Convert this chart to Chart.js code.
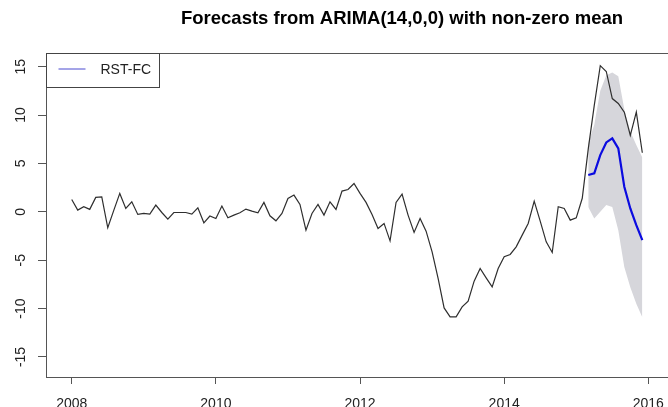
<!DOCTYPE html>
<html>
<head>
<meta charset="utf-8">
<script src="https://cdn.jsdelivr.net/npm/chart.js@4.4.1/dist/chart.umd.min.js"></script>
<style>
  html, body { margin: 0; padding: 0; background: #fff; }
  #wrap { width: 668px; height: 407px; overflow: hidden; }
</style>
</head>
<body>
<div id="wrap"><canvas id="fc" width="850" height="407"></canvas></div>
<script>
// monthly series, Jan 2008 .. Dec 2015
const startYear = 2008;
const freq = 12;
const rst = [
  1.28, 0.18, 0.52, 0.25, 1.49, 1.55, -1.65, 0.15, 1.9, 0.35, 1.03, -0.27,
  -0.17, -0.24, 0.69, -0.07, -0.75, -0.07, -0.07, -0.07, -0.24, 0.41, -1.14, -0.44,
  -0.69, 0.59, -0.62, -0.34, -0.1, 0.28, 0.07, -0.1, 0.97, -0.41, -0.93, -0.17,
  1.38, 1.73, 0.76, -1.89, -0.17, 0.76, -0.34, 1.03, 0.25, 2.14, 2.31, 2.93,
  1.9, 0.97, -0.27, -1.72, -1.2, -3.0, 0.97, 1.83, -0.34, -2.13, -0.69, -2.0,
  -4.14, -6.89, -9.93, -10.86, -10.86, -9.82, -9.23, -7.17, -5.86, -6.82, -7.76, -5.86,
  -4.65, -4.41, -3.62, -2.41, -1.2, 1.1, -0.96, -3.1, -4.2, 0.52, 0.35, -0.86,
  -0.62, 1.4, 6.5, 11.0, 15.1, 14.5, 11.7, 11.2, 10.3, 7.9, 10.3, 6.1
];

// forecast Mar 2015 .. Dec 2015
const fcStart = 2015 + 2 / 12;
const fcMean  = [3.8, 3.97, 5.86, 7.17, 7.59, 6.55, 2.59, 0.35, -1.38, -2.93];
const fcUpper = [7.1, 9.0, 12.5, 14.1, 14.4, 14.0, 10.6, 8.3, 6.9, 5.6];
const fcLower = [0.5, -0.7, 0.0, 0.7, 0.5, -1.9, -5.7, -7.8, -9.5, -10.9];

const xTicks = [2008, 2010, 2012, 2014, 2016];
const yTicks = [-15, -10, -5, 0, 5, 10, 15];

const toPoints = (start, values) => values.map((v, i) => ({ x: start + i / freq, y: v }));

const axisFont = { family: "'Liberation Sans', Arial, sans-serif", size: 14 };

// R style box round the plot region
const boxPlugin = {
  id: 'box',
  afterDraw(chart) {
    const { ctx, chartArea: a } = chart;
    ctx.save();
    ctx.strokeStyle = '#555';
    ctx.lineWidth = 1;
    ctx.strokeRect(Math.round(a.left) + 0.5, Math.round(a.top) + 0.5,
      Math.round(a.right - a.left), Math.round(a.bottom - a.top));
    ctx.restore();
  }
};

// legend box in the top left corner
const legendPlugin = {
  id: 'rlegend',
  afterDraw(chart) {
    const { ctx, chartArea: a } = chart;
    const ds = chart.data.datasets[0];
    const x = Math.round(a.left) + 0.5, y = Math.round(a.top) + 0.5;
    ctx.save();
    ctx.fillStyle = '#fff';
    ctx.fillRect(x, y, 113, 34);
    ctx.strokeStyle = '#444';
    ctx.lineWidth = 1;
    ctx.strokeRect(x, y, 113, 34);
    ctx.strokeStyle = '#4a4ad0';
    ctx.beginPath();
    ctx.moveTo(x + 12, y + 15.5);
    ctx.lineTo(x + 39, y + 15.5);
    ctx.stroke();
    ctx.fillStyle = '#222';
    ctx.font = "14px 'Liberation Sans', Arial, sans-serif";
    ctx.textBaseline = 'middle';
    ctx.fillText(ds.label, x + 54, y + 16.5);
    ctx.restore();
  }
};

new Chart(document.getElementById('fc'), {
  type: 'line',
  data: {
    datasets: [
      { label: 'RST-FC', data: toPoints(fcStart, fcMean), borderColor: '#0b0be0', borderWidth: 2.2,
        pointRadius: 0, fill: false, order: 0 },
      { label: 'RST', data: toPoints(startYear, rst), borderColor: '#2e2e2e', borderWidth: 1.2,
        pointRadius: 0, fill: false, order: 1 },
      { label: 'upper', data: toPoints(fcStart, fcUpper), borderWidth: 0, borderColor: 'rgba(0,0,0,0)',
        backgroundColor: '#d6d6db', pointRadius: 0, fill: '+1', order: 2 },
      { label: 'lower', data: toPoints(fcStart, fcLower), borderWidth: 0, borderColor: 'rgba(0,0,0,0)',
        pointRadius: 0, fill: false, order: 3 }
    ]
  },
  options: {
    responsive: false,
    animation: false,
    devicePixelRatio: 1,
    layout: { padding: { left: 0, right: 46, top: 0, bottom: 0 } },
    elements: { line: { tension: 0 } },
    plugins: {
      legend: { display: false },
      tooltip: { enabled: false },
      title: {
        display: true,
        text: 'Forecasts from ARIMA(14,0,0) with non-zero mean',
        color: '#000',
        font: { family: "'Liberation Sans', Arial, sans-serif", size: 18.5, weight: 'bold' },
        padding: { top: 8, bottom: 23 }
      }
    },
    scales: {
      x: {
        type: 'linear',
        min: 2007.643,
        max: 2018.16,
        afterBuildTicks: s => { s.ticks = xTicks.map(v => ({ value: v })); },
        afterFit: s => { s.height = 30; },
        grid: { drawOnChartArea: false, drawTicks: true, tickLength: 7, tickColor: '#555' },
        border: { display: false },
        ticks: { font: axisFont, color: '#222', padding: 12, maxRotation: 0, autoSkip: false,
          callback: v => String(v) }
      },
      y: {
        min: -17.07,
        max: 16.39,
        afterBuildTicks: s => { s.ticks = yTicks.map(v => ({ value: v })); },
        afterFit: s => { s.width = 46; },
        grid: { drawOnChartArea: false, drawTicks: true, tickLength: 8, tickColor: '#555' },
        border: { display: false },
        ticks: { font: axisFont, color: '#222', padding: 7, minRotation: 90, maxRotation: 90,
          crossAlign: 'center', autoSkip: false, callback: v => String(v) }
      }
    }
  },
  plugins: [boxPlugin, legendPlugin]
});
</script>
</body>
</html>
